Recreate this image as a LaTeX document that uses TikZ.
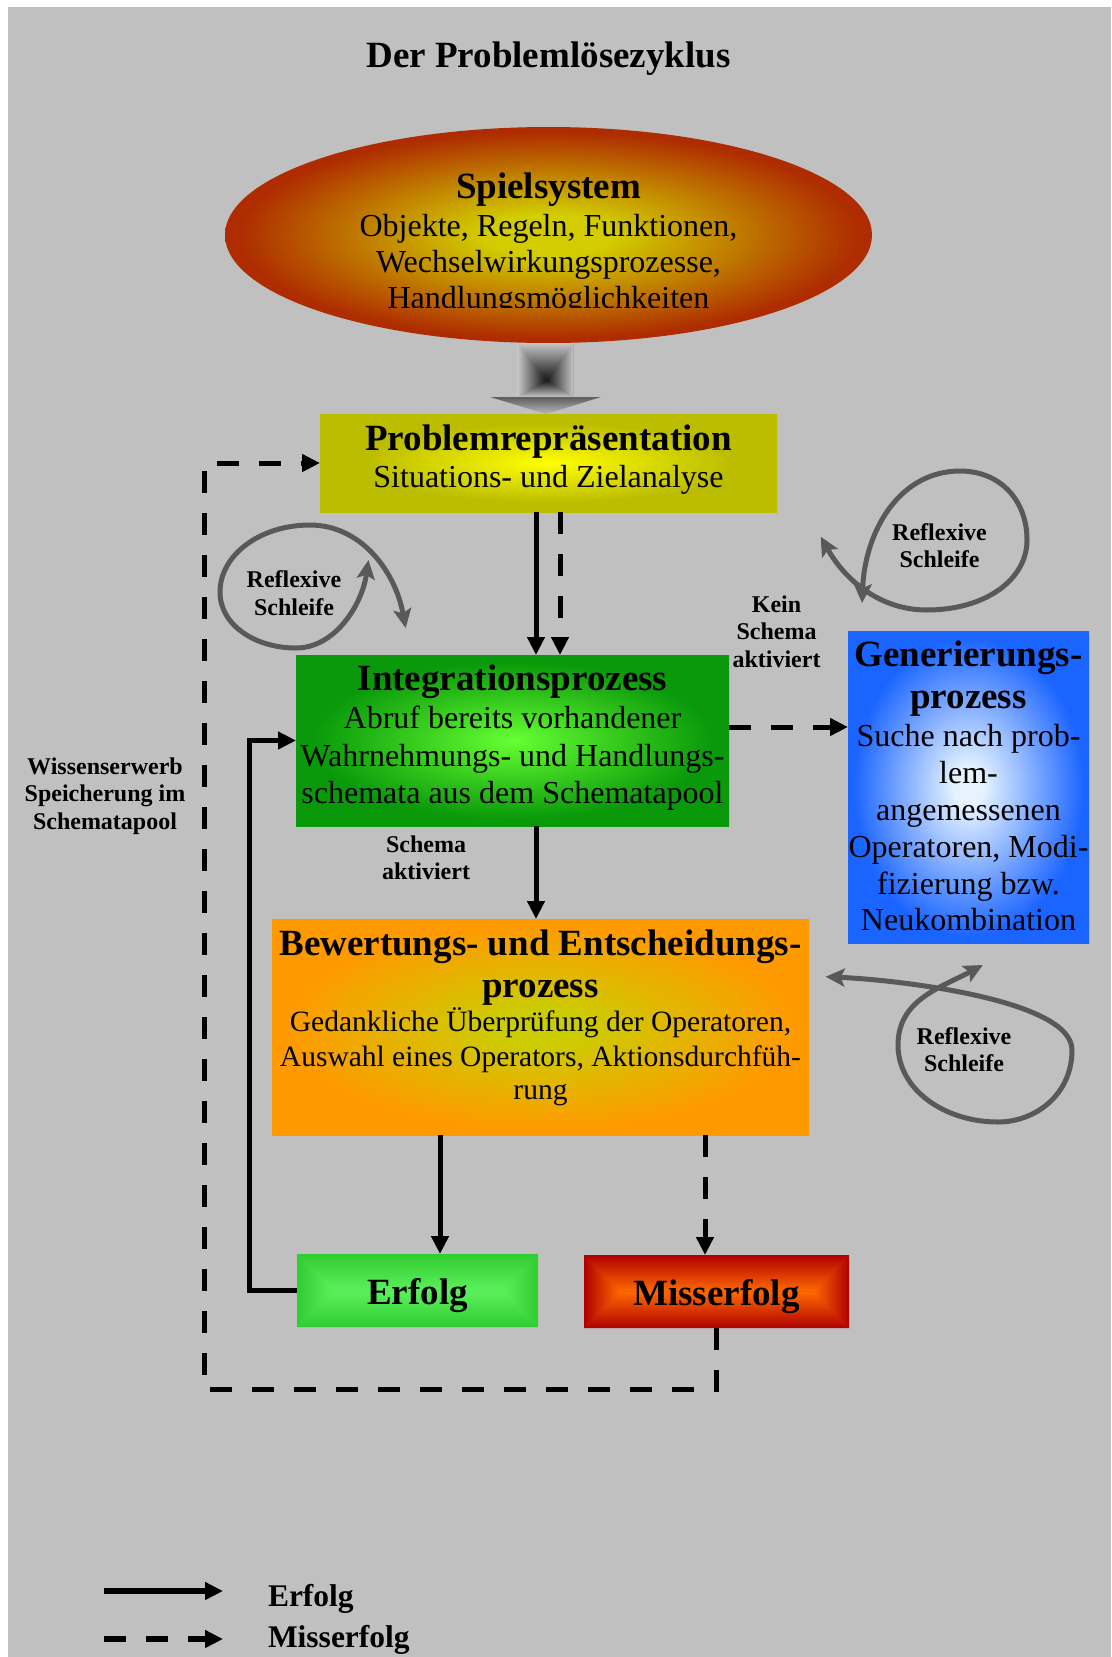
\documentclass[tikz,border=0pt]{standalone}
\usepackage{fontspec}
\setmainfont{Liberation Serif}
\usetikzlibrary{arrows.meta,calc,shapes.geometric}

\definecolor{bgc}{HTML}{C0C0C0}
\definecolor{loopc}{HTML}{595959}
\definecolor{ellin}{HTML}{D2CC00}
\definecolor{ellout}{HTML}{AE2C00}
\definecolor{prin}{HTML}{FFFF00}
\definecolor{prout}{HTML}{BDBD00}
\definecolor{inin}{HTML}{66FF33}
\definecolor{inout}{HTML}{0A990A}
\definecolor{gein}{HTML}{E6F3FF}
\definecolor{geout}{HTML}{1A64FF}
\definecolor{bein}{HTML}{CCCC00}
\definecolor{beout}{HTML}{FF9900}
\definecolor{erin}{HTML}{5CF05C}
\definecolor{erout}{HTML}{30CC30}
\definecolor{ermid}{HTML}{44DD44}
\definecolor{miin}{HTML}{FF6A00}
\definecolor{miout}{HTML}{B00000}
\definecolor{mimid}{HTML}{D83400}
\definecolor{shaftout}{HTML}{C6C6C6}
\definecolor{shaftin}{HTML}{151515}
\definecolor{shaftmid}{HTML}{8A8A8A}
\definecolor{headtop}{HTML}{5E5E5E}
\definecolor{headbot}{HTML}{B8B8B8}

\pgfdeclareradialshading{shEll}{\pgfpoint{0bp}{0bp}}{color(0bp)=(ellin); color(5bp)=(ellin); color(24bp)=(ellout); color(50bp)=(ellout)}
\pgfdeclareradialshading{shPr}{\pgfpoint{0bp}{0bp}}{color(0bp)=(prin); color(20bp)=(prout); color(50bp)=(prout)}
\pgfdeclareradialshading{shIn}{\pgfpoint{0bp}{0bp}}{color(0bp)=(inin); color(23bp)=(inout); color(50bp)=(inout)}
\pgfdeclareradialshading{shGe}{\pgfpoint{0bp}{0bp}}{color(0bp)=(gein); color(3bp)=(gein); color(24bp)=(geout); color(50bp)=(geout)}
\pgfdeclareradialshading{shBe}{\pgfpoint{0bp}{0bp}}{color(0bp)=(bein); color(4bp)=(bein); color(24bp)=(beout); color(50bp)=(beout)}

\newcommand\fTitle{\fontsize{37}{40}\selectfont\bfseries}
\newcommand\fHead{\fontsize{37}{40}\selectfont\bfseries}
\newcommand\fBody{\fontsize{32}{37}\selectfont}
\newcommand\fBew{\fontsize{29.5}{35}\selectfont}
\newcommand\fLab{\fontsize{24}{28}\selectfont\bfseries}
\newcommand\fLeg{\fontsize{31.5}{36}\selectfont\bfseries}

% rectangular ("from centre") gradient over a wide box node:
% #1 node, #2 half height, #3 edge colour, #4 centre colour
\newcommand\rectgrad[4]{%
  \coordinate (#1gA) at ([xshift=#2]#1.west);
  \coordinate (#1gB) at ([xshift=-#2]#1.east);
  \shade[left color=#3, right color=#4] (#1.north west) -- (#1gA) -- (#1.south west) -- cycle;
  \shade[left color=#4, right color=#3] (#1.north east) -- (#1gB) -- (#1.south east) -- cycle;
  \shade[top color=#3, bottom color=#4] (#1.north west) -- (#1.north east) -- (#1gB) -- (#1gA) -- cycle;
  \shade[top color=#4, bottom color=#3] (#1.south west) -- (#1.south east) -- (#1gB) -- (#1gA) -- cycle;
}

\tikzset{
  box/.style={rectangle, inner sep=0pt, outer sep=0pt, draw=none, shade},
  flatbox/.style={rectangle, inner sep=0pt, outer sep=0pt, draw=none},
  txt/.style={anchor=base, inner sep=0pt, outer sep=0pt},
  conn/.style={line width=5pt, -{Triangle[length=18pt,width=17pt]}},
  dsh/.style={dash pattern=on 22pt off 20pt},
  loopar/.style={draw=loopc, line width=5pt,
    {Stealth[length=19pt,width=18pt,inset=4pt]}-{Stealth[length=19pt,width=18pt,inset=4pt]}},
}

\begin{document}
\begin{tikzpicture}[x=1pt,y=-1pt]
\useasboundingbox (0,0) rectangle (1111,1657);
\fill[white] (0,0) rectangle (1111,1657);
\fill[bgc] (8,7) rectangle (1111,1657);

% title
\node[txt, font=\fTitle] (title) at (548.5,67) {Der Problemlösezyklus};

% boxes
\node[ellipse, inner sep=0pt, outer sep=0pt, draw=none, shade, shading=shEll,
      minimum width=647pt, minimum height=216pt] (spiel) at (548.5,235) {};
\node[box, shading=shPr, minimum width=457pt, minimum height=98pt] (pr) at (548.5,463) {};
\node[box, shading=shIn, minimum width=433pt, minimum height=171pt] (integ) at (512.5,740.5) {};
\node[box, shading=shGe, minimum width=241pt, minimum height=312pt] (gen) at (968.5,787) {};
\node[box, shading=shBe, minimum width=537pt, minimum height=216pt] (bew) at (540.5,1027) {};
\node[flatbox, fill=ermid, minimum width=241pt, minimum height=73pt] (erf) at (417.5,1290.5) {};
\node[flatbox, fill=mimid, minimum width=265pt, minimum height=73pt] (miss) at (716.5,1291.5) {};
\rectgrad{erf}{36.5pt}{erout}{erin}
\rectgrad{miss}{36.5pt}{miout}{miin}

% block arrow from Spielsystem to Problemrepraesentation (pyramid gradient shaft)
\coordinate (shNW) at ([xshift=-31pt]spiel.south);
\coordinate (shNE) at ([xshift=25pt]spiel.south);
\coordinate (shSW) at ([xshift=-31pt,yshift=17pt]spiel.south |- pr.north);
\coordinate (shSE) at ([xshift=25pt,yshift=17pt]spiel.south |- pr.north);
\coordinate (shC) at ([xshift=-2.5pt,yshift=34pt]pr.north);
\fill[shaftmid] (shNW) rectangle (shSE);
\shade[left color=shaftout, right color=shaftin] (shNW) -- (shSW) -- (shC) -- cycle;
\shade[left color=shaftin, right color=shaftout] (shNE) -- (shSE) -- (shC) -- cycle;
\shade[top color=shaftout, bottom color=shaftin] (shNW) -- (shNE) -- (shC) -- cycle;
\shade[top color=shaftin, bottom color=shaftout] (shSW) -- (shSE) -- (shC) -- cycle;
\shade[top color=headtop, bottom color=headbot]
  ([xshift=-58.5pt,yshift=17pt]pr.north) -- ([xshift=52.5pt,yshift=17pt]pr.north) -- ([xshift=-2.5pt]pr.north) -- cycle;

% ellipse text
\node[txt, font=\fHead] (sp1) at (548.5,198) {Spielsystem};
\node[txt, font=\fBody] (sp2) at (548.5,236) {Objekte, Regeln, Funktionen,};
\node[txt, font=\fBody] (sp3) at (548.5,272) {Wechselwirkungsprozesse,};
\begin{scope}
  \clip (200,280) rectangle (900,307.5);
  \node[txt, font=\fBody] (sp4) at (548.5,308) {Handlungsmöglichkeiten};
\end{scope}

% Problemrepraesentation text
\node[txt, font=\fHead] (pr1) at (548.5,450) {Problemrepräsentation};
\node[txt, font=\fBody] (pr2) at (548.5,487.5) {Situations- und Zielanalyse};

% Integrationsprozess text
\node[txt, font=\fHead] (in1) at (512.5,690) {Integrationsprozess};
\node[txt, font=\fBody] (in2) at (512.5,728) {Abruf bereits vorhandener};
\node[txt, font=\fBody] (in3) at (512.5,766) {Wahrnehmungs- und Handlungs-};
\node[txt, font=\fBody] (in4) at (512.5,803) {schemata aus dem Schematapool};

% Generierungsprozess text
\node[txt, font=\fHead] (ge1) at (968.5,666) {Generierungs-};
\node[txt, font=\fHead] (ge2) at (968.5,708) {prozess};
\node[txt, font=\fBody] (ge3) at (968.5,746) {Suche nach prob-};
\node[txt, font=\fBody] (ge4) at (968.5,783) {lem-};
\node[txt, font=\fBody] (ge5) at (968.5,820) {angemessenen};
\node[txt, font=\fBody] (ge6) at (968.5,857) {Operatoren, Modi-};
\node[txt, font=\fBody] (ge7) at (968.5,894) {fizierung bzw.};
\node[txt, font=\fBody] (ge8) at (968.5,930) {Neukombination};

% Bewertungs text
\node[txt, font=\fHead] (be1) at (540.5,955) {Bewertungs- und Entscheidungs-};
\node[txt, font=\fHead] (be2) at (540.5,997) {prozess};
\node[txt, font=\fBew] (be3) at (540.5,1031) {Gedankliche Überprüfung der Operatoren,};
\node[txt, font=\fBew] (be4) at (540.5,1066) {Auswahl eines Operators, Aktionsdurchfüh-};
\node[txt, font=\fBew] (be5) at (540.5,1099) {rung};

% Erfolg / Misserfolg text
\node[txt, font=\fHead] (er1) at (417.5,1304) {Erfolg};
\node[txt, font=\fHead] (mi1) at (716.5,1305.5) {Misserfolg};

% connectors
\draw[conn] ([xshift=-12.5pt]pr.south) -- ([xshift=-12.5pt]pr.south |- integ.north);
\draw[conn,dsh] ([xshift=11.5pt]pr.south) -- ([xshift=11.5pt]pr.south |- integ.north);
\draw[conn] ([xshift=23.5pt]integ.south) -- ([xshift=23.5pt]integ.south |- bew.north);
\draw[conn,dsh] ([yshift=13.5pt]integ.east) -- ([yshift=13.5pt]integ.east -| gen.west);
\draw[conn] ([xshift=-100.5pt]bew.south) -- ([xshift=-100.5pt]bew.south |- erf.north);
\draw[conn,dsh] ([xshift=164.5pt]bew.south) -- ([xshift=164.5pt]bew.south |- miss.north);
\coordinate (fbL) at (204,1389);
\draw[conn,dsh] (miss.south) |- (fbL) |- (pr.west);
\coordinate (sbL) at (249,1000);
\draw[conn] (erf.west) -| (sbL |- integ.west) -- (integ.west);

% reflexive loops
\draw[loopar] (368.5,560) .. controls (362,605) and (335,648) .. (296,648)
  .. controls (255,648) and (220,625) .. (220,592)
  .. controls (220,555) and (260,525) .. (310,525)
  .. controls (360,525) and (395,570) .. (405.7,628);
\draw[loopar] (820.7,536.7) .. controls (845,580) and (880,610) .. (926.7,610)
  .. controls (985,610) and (1027,580) .. (1027,540)
  .. controls (1027,500) and (1000,471) .. (960,471)
  .. controls (900,471) and (865,530) .. (862,603);
\draw[loopar] (825.6,976.7) .. controls (900,980) and (1072,1000) .. (1072,1050)
  .. controls (1072,1095) and (1035,1122) .. (998,1122)
  .. controls (945,1122) and (898,1090) .. (898,1045)
  .. controls (898,1000) and (940,988) .. (982.8,965);

% labels
\node[txt, font=\fLab] (l1a) at (294,587) {Reflexive};
\node[txt, font=\fLab] (l1b) at (294,615.7) {Schleife};
\node[txt, font=\fLab] (l2a) at (939.5,540) {Reflexive};
\node[txt, font=\fLab] (l2b) at (939.5,567) {Schleife};
\node[txt, font=\fLab] (l3a) at (964,1044) {Reflexive};
\node[txt, font=\fLab] (l3b) at (964,1071) {Schleife};
\node[txt, font=\fLab] (k1) at (776.5,612) {Kein};
\node[txt, font=\fLab] (k2) at (776.5,639.5) {Schema};
\node[txt, font=\fLab] (k3) at (776.5,667) {aktiviert};
\node[txt, font=\fLab] (s1) at (426,852.5) {Schema};
\node[txt, font=\fLab] (s2) at (426,879.5) {aktiviert};
\node[txt, font=\fLab] (w1) at (105,774) {Wissenserwerb};
\node[txt, font=\fLab] (w2) at (105,801.5) {Speicherung im};
\node[txt, font=\fLab] (w3) at (105,829) {Schematapool};

% legend
\coordinate (la1) at (104,1591);
\coordinate (la2) at (223,1591);
\coordinate (lb1) at (104,1639);
\coordinate (lb2) at (223,1639);
\draw[conn, line width=5.5pt] (la1) -- (la2);
\draw[conn, dsh, line width=5.5pt] (lb1) -- (lb2);
\node[txt, anchor=base west, font=\fLeg] (lg1) at (268,1606) {Erfolg};
\node[txt, anchor=base west, font=\fLeg] (lg2) at (268,1647.5) {Misserfolg};
\end{tikzpicture}
\end{document}
